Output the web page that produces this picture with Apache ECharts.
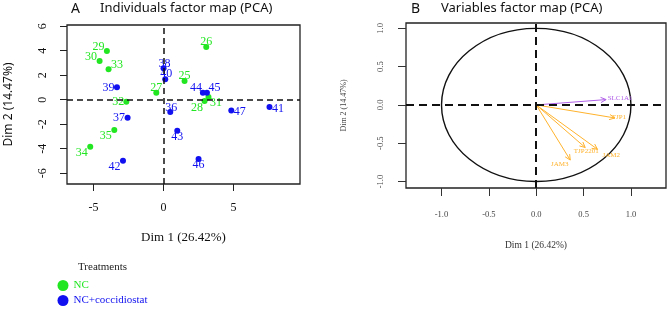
<!DOCTYPE html>
<html>
<head>
<meta charset="utf-8">
<script src="https://cdn.jsdelivr.net/npm/echarts@6/dist/echarts.min.js"></script>
<style>
  html, body { margin: 0; padding: 0; background: #fff; }
  #chart { width: 669px; height: 309px; }
</style>
</head>
<body>
<div id="chart"></div>
<script>
// individuals (PCA scores)
const ncNames = ['25', '26', '27', '28', '29', '30', '31', '32', '33', '34', '35'];
const ncDim1 = [1.5, 3.05, -0.52, 2.93, -4.05, -4.57, 3.21, -2.66, -3.93, -5.24, -3.52];
const ncDim2 = [1.53, 4.3, 0.57, -0.11, 3.98, 3.16, 0.22, -0.16, 2.48, -3.84, -2.47];

const coccNames = ['36', '37', '38', '39', '40', '41', '42', '43', '44', '45', '46', '47'];
const coccDim1 = [0.48, -2.57, 0.0, -3.33, 0.12, 7.57, -2.9, 0.98, 2.81, 3.1, 2.5, 4.84];
const coccDim2 = [-1.0, -1.47, 2.56, 1.01, 1.67, -0.6, -4.98, -2.53, 0.57, 0.57, -4.84, -0.87];

// variables (correlations with dims)
const varNames = ['SLC1A1', 'TJP1', 'TJP2201', 'JAM2', 'JAM3'];
const varDim1 = [0.738, 0.83, 0.517, 0.647, 0.359];
const varDim2 = [0.07, -0.17, -0.556, -0.58, -0.72];

const leftTicksX = [-5, 0, 5];
const leftTicksY = [-6, -4, -2, 0, 2, 4, 6];
const rightTicks = [-1.0, -0.5, 0.0, 0.5, 1.0];

// label placement (px offsets from the point), styling only
const labelShift = {
  '25': [0, -5], '26': [0, -5], '27': [0, -5], '28': [-7.5, 6.5], '29': [-8.5, -4.5],
  '30': [-8.5, -4], '31': [7.5, 5.5], '32': [-8, 0], '33': [8.5, -4.5], '34': [-8.5, 6],
  '35': [-8.5, 6], '36': [1, -4.5], '37': [-8.5, 0.5], '38': [1, -5], '39': [-8.5, 0.5],
  '40': [1, -5], '41': [8.5, 1.5], '42': [-8.5, 6], '43': [0, 6], '44': [-7, -4.5],
  '45': [7.5, -4.5], '46': [0, 5.5], '47': [8.5, 1]
};
const varLabelShift = {
  SLC1A1: [14, -1.8], TJP1: [4, -0.7], TJP2201: [1, 3.4], JAM2: [13.7, 5.7], JAM3: [-10.5, 4]
};
const varColor = { SLC1A1: '#b060e8', TJP1: '#ffb22c', TJP2201: '#ffb22c', JAM2: '#ffb22c', JAM3: '#ffb22c' };

const GREEN = '#22e622';
const BLUE = '#1010f0';
const serif = 'Liberation Serif';
const sans = 'Noto Sans';

const chart = echarts.init(document.getElementById('chart'), null, { renderer: 'canvas' });

const pointData = (names, xs, ys) => names.map((n, i) => ({
  name: n,
  value: [xs[i], ys[i]],
  label: { offset: labelShift[n] }
}));

const dashed = (w, dash) => ({
  silent: true,
  symbol: ['none', 'none'],
  label: { show: false },
  lineStyle: { type: dash, color: '#111', width: w },
  data: [{ xAxis: 0 }, { yAxis: 0 }],
  animation: false
});

const option = {
  animation: false,
  title: [
    { text: 'A', left: 71, top: 2, padding: 0, textStyle: { fontFamily: sans, fontSize: 14, fontWeight: 'normal', color: '#111' } },
    { text: 'Individuals factor map (PCA)', left: 100, top: 2, padding: 0, textStyle: { fontFamily: sans, fontSize: 13, fontWeight: 'normal', color: '#111' } },
    { text: 'B', left: 411, top: 2, padding: 0, textStyle: { fontFamily: sans, fontSize: 14, fontWeight: 'normal', color: '#111' } },
    { text: 'Variables factor map (PCA)', left: 441, top: 2, padding: 0, textStyle: { fontFamily: sans, fontSize: 13, fontWeight: 'normal', color: '#111' } },
    { text: 'Treatments', left: 78, top: 262, padding: 0, textStyle: { fontFamily: serif, fontSize: 11, fontWeight: 'normal', color: '#222' } }
  ],
  legend: {
    orient: 'vertical',
    left: 57.5,
    top: 280,
    padding: 0,
    itemGap: 4,
    itemWidth: 11,
    itemHeight: 11,
    icon: 'circle',
    selectedMode: false,
    textStyle: { fontFamily: serif, fontSize: 11 },
    data: [
      { name: 'NC', textStyle: { color: GREEN } },
      { name: 'NC+coccidiostat', textStyle: { color: BLUE } }
    ]
  },
  grid: [
    { left: 67, top: 25, width: 233, height: 159, show: true, borderColor: '#222', borderWidth: 1.3, backgroundColor: 'transparent' },
    { left: 406, top: 23, width: 260, height: 165, show: true, borderColor: '#222', borderWidth: 1.3, backgroundColor: 'transparent' }
  ],
  xAxis: [
    {
      gridIndex: 0, type: 'value', min: -6.9, max: 9.75,
      splitLine: { show: false },
      axisLine: { show: false, onZero: false },
      axisTick: { show: true, length: 7, customValues: leftTicksX, lineStyle: { color: '#222' } },
      axisLabel: { customValues: leftTicksX, margin: 18, fontFamily: serif, fontSize: 12, color: '#111' },
      name: 'Dim 1 (26.42%)', nameLocation: 'middle', nameGap: 47,
      nameTextStyle: { fontFamily: serif, fontSize: 13, color: '#111' }
    },
    {
      gridIndex: 1, type: 'value', min: -1.375, max: 1.37,
      splitLine: { show: false },
      axisLine: { show: false, onZero: false },
      axisTick: { show: true, length: 8, customValues: rightTicks, lineStyle: { color: '#333' } },
      axisLabel: { customValues: rightTicks, margin: 22, fontFamily: serif, fontSize: 8.5, color: '#444', formatter: v => v.toFixed(1) },
      name: 'Dim 1 (26.42%)', nameLocation: 'middle', nameGap: 52,
      nameTextStyle: { fontFamily: serif, fontSize: 9.5, color: '#333' }
    }
  ],
  yAxis: [
    {
      gridIndex: 0, type: 'value', min: -6.88, max: 6.1,
      splitLine: { show: false },
      axisLine: { show: false, onZero: false },
      axisTick: { show: true, length: 7, customValues: leftTicksY, lineStyle: { color: '#222' } },
      axisLabel: { customValues: leftTicksY, rotate: 90, margin: 18, fontFamily: serif, fontSize: 12, color: '#111' },
      name: 'Dim 2 (14.47%)', nameLocation: 'middle', nameGap: 52,
      nameTextStyle: { fontFamily: sans, fontSize: 12, color: '#111' }
    },
    {
      gridIndex: 1, type: 'value', min: -1.085, max: 1.07,
      splitLine: { show: false },
      axisLine: { show: false, onZero: false },
      axisTick: { show: true, length: 8, customValues: rightTicks, lineStyle: { color: '#333' } },
      axisLabel: { customValues: rightTicks, rotate: 90, margin: 21, fontFamily: serif, fontSize: 8.5, color: '#444', formatter: v => v.toFixed(1) },
      name: 'Dim 2 (14.47%)', nameLocation: 'middle', nameGap: 58,
      nameTextStyle: { fontFamily: serif, fontSize: 8, color: '#444' }
    }
  ],
  series: [
    {
      type: 'scatter', xAxisIndex: 0, yAxisIndex: 0, data: [], z: 1,
      markLine: dashed(1.5, [6, 4])
    },
    {
      name: 'NC', type: 'scatter', xAxisIndex: 0, yAxisIndex: 0, z: 3,
      symbolSize: 6,
      itemStyle: { color: GREEN, opacity: 1 },
      label: { show: true, position: 'inside', formatter: '{b}', color: GREEN, fontFamily: serif, fontSize: 12 },
      data: pointData(ncNames, ncDim1, ncDim2)
    },
    {
      name: 'NC+coccidiostat', type: 'scatter', xAxisIndex: 0, yAxisIndex: 0, z: 3,
      symbolSize: 6,
      itemStyle: { color: BLUE, opacity: 1 },
      label: { show: true, position: 'inside', formatter: '{b}', color: BLUE, fontFamily: serif, fontSize: 12 },
      data: pointData(coccNames, coccDim1, coccDim2)
    },
    {
      // correlation circle
      type: 'custom', xAxisIndex: 1, yAxisIndex: 1, z: 2,
      data: [[0, 0]],
      renderItem: (params, api) => {
        const c = api.coord([0, 0]);
        const s = api.size([1, 1]);
        return {
          type: 'ellipse',
          shape: { cx: c[0], cy: c[1], rx: s[0], ry: s[1] },
          style: { fill: 'none', stroke: '#111', lineWidth: 1.4 }
        };
      },
      markLine: dashed(2, [8, 5])
    },
    {
      // variable arrows
      type: 'custom', xAxisIndex: 1, yAxisIndex: 1, z: 4,
      data: varNames.map((n, i) => ({ name: n, value: [varDim1[i], varDim2[i]] })),
      renderItem: (params, api) => {
        const name = varNames[params.dataIndex];
        const col = varColor[name];
        const p0 = api.coord([0, 0]);
        const p1 = api.coord([api.value(0), api.value(1)]);
        const a = Math.atan2(p1[1] - p0[1], p1[0] - p0[0]);
        const hl = 6, hs = 0.45;
        const h1 = [p1[0] - hl * Math.cos(a - hs), p1[1] - hl * Math.sin(a - hs)];
        const h2 = [p1[0] - hl * Math.cos(a + hs), p1[1] - hl * Math.sin(a + hs)];
        const st = { stroke: col, lineWidth: 1 };
        const sh = varLabelShift[name];
        return {
          type: 'group',
          children: [
            { type: 'line', shape: { x1: p0[0], y1: p0[1], x2: p1[0], y2: p1[1] }, style: st },
            { type: 'line', shape: { x1: p1[0], y1: p1[1], x2: h1[0], y2: h1[1] }, style: st },
            { type: 'line', shape: { x1: p1[0], y1: p1[1], x2: h2[0], y2: h2[1] }, style: st },
            {
              type: 'text',
              x: p1[0] + sh[0], y: p1[1] + sh[1],
              style: { text: name, fill: col, font: '7px "Liberation Serif"', align: 'center', verticalAlign: 'middle' }
            }
          ]
        };
      }
    }
  ]
};

chart.setOption(option);
</script>
</body>
</html>
